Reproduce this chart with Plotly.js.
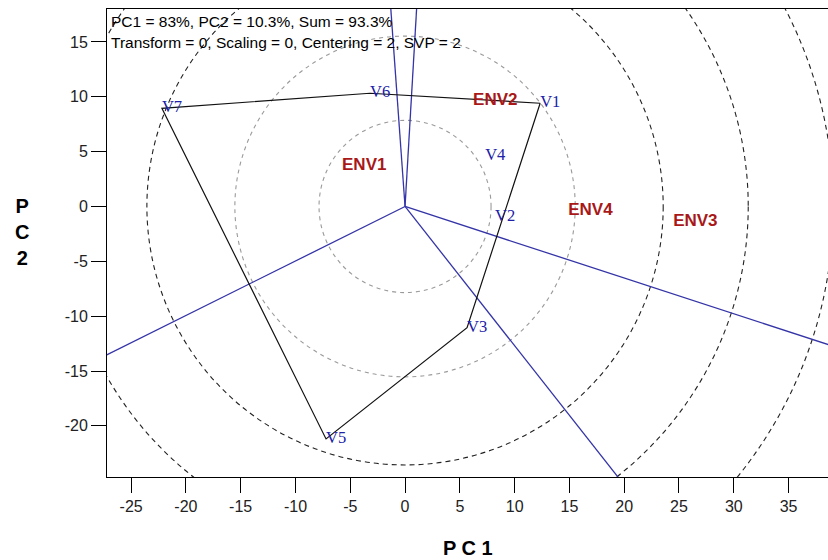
<!DOCTYPE html>
<html><head><meta charset="utf-8">
<script src="https://cdn.plot.ly/plotly-3.0.1.min.js"></script>
<style>html,body{margin:0;padding:0;background:#fff}</style>
</head><body><div id="chart" style="width:828px;height:560px"></div>
<script>
// ---- data ----
const genotypes = ['V1', 'V2', 'V3', 'V4', 'V5', 'V6', 'V7'];
const genoPC1 = [12.33, 8.22, 5.66, 7.31, -7.21, -3.20, -22.19];
const genoPC2 = [9.41, -0.91, -11.05, 4.57, -21.19, 10.32, 8.95];
const environments = ['ENV1', 'ENV2', 'ENV3', 'ENV4'];
const envPC1 = [-5.75, 6.21, 24.47, 14.89];
const envPC2 = [3.74, 9.68, -1.37, -0.37];
const hullOrder = ['V1', 'V6', 'V7', 'V5', 'V3'];
const circleRadii = [7.85, 15.53, 23.56, 31.32, 39.09];
const xTickVals = [-25, -20, -15, -10, -5, 0, 5, 10, 15, 20, 25, 30, 35];
const yTickVals = [-20, -15, -10, -5, 0, 5, 10, 15];
const headerLines = ['PC1 = 83%, PC2 = 10.3%, Sum = 93.3%',
                     'Transform = 0, Scaling = 0, Centering = 2, SVP = 2'];
const xTitle = 'P C 1';
const yTitle = 'P<br>C<br>2';

// ---- build traces ----
const idx = n => genotypes.indexOf(n);
const hx = hullOrder.map(n => genoPC1[idx(n)]);
const hy = hullOrder.map(n => genoPC2[idx(n)]);
hx.push(hx[0]); hy.push(hy[0]);

const traces = [];
// perpendicular rays from origin to each polygon side
for (let i = 0; i < hullOrder.length; i++) {
  const ax = hx[i], ay = hy[i], bx = hx[i + 1], by = hy[i + 1];
  let nx = by - ay, ny = -(bx - ax);
  if (nx * ax + ny * ay < 0) { nx = -nx; ny = -ny; }
  const L = Math.hypot(nx, ny);
  traces.push({x: [0, nx / L * 200], y: [0, ny / L * 200], mode: 'lines', type: 'scatter',
    line: {color: '#3434a8', width: 1.3}, hoverinfo: 'skip', showlegend: false});
}
traces.push({x: hx, y: hy, mode: 'lines', type: 'scatter',
  line: {color: '#111', width: 1.2}, hoverinfo: 'skip', showlegend: false});
traces.push({x: genoPC1, y: genoPC2, text: genotypes, mode: 'text', type: 'scatter',
  textposition: 'middle right', cliponaxis: false,
  textfont: {family: 'Liberation Serif, Times New Roman, serif', size: 16.5, color: '#2020a8'},
  hoverinfo: 'skip', showlegend: false});
traces.push({x: envPC1, y: envPC2, text: environments, mode: 'text', type: 'scatter',
  textposition: 'middle right', cliponaxis: false,
  textfont: {family: 'Liberation Sans, Arial, sans-serif', size: 17, color: '#a81818', weight: 'bold'},
  hoverinfo: 'skip', showlegend: false});

const shapes = circleRadii.map((r, i) => ({
  type: 'circle', xref: 'x', yref: 'y', x0: -r, x1: r, y0: -r, y1: r, layer: 'below',
  line: {color: i < 2 ? '#9a9a9a' : '#222', width: 1.1, dash: i < 2 ? '4px,4px' : '5px,4px'}
}));

const axisCommon = {
  showgrid: false, zeroline: false, showline: true, linecolor: '#000', linewidth: 1, mirror: true,
  ticks: 'outside', ticklen: 15, tickcolor: '#000', tickwidth: 1,
  tickfont: {family: 'Liberation Sans, Arial, sans-serif', size: 16, color: '#222'},
  tickmode: 'array', fixedrange: true
};

const headerFont = {family: 'Liberation Sans, Arial, sans-serif', size: 15.5, color: '#000'};
const layout = {
  width: 828, height: 560,
  margin: {l: 107, r: 0, t: 9, b: 83},
  paper_bgcolor: '#fff', plot_bgcolor: '#fff',
  xaxis: Object.assign({}, axisCommon, {range: [-27.2, 38.6], tickvals: xTickVals,
    ticktext: xTickVals.map(String)}),
  yaxis: Object.assign({}, axisCommon, {range: [-24.66, 18.0], tickvals: yTickVals,
    ticktext: yTickVals.map(String)}),
  shapes: shapes,
  annotations: [
    {text: headerLines[0], xref: 'paper', yref: 'paper', x: 0, y: 1, xanchor: 'left', yanchor: 'top',
     xshift: 2, yshift: -2, showarrow: false, font: headerFont},
    {text: headerLines[1], xref: 'paper', yref: 'paper', x: 0, y: 1, xanchor: 'left', yanchor: 'top',
     xshift: 2, yshift: -23, showarrow: false, font: headerFont},
    {text: xTitle, xref: 'paper', yref: 'paper', x: 0.5, y: -0.152, xanchor: 'center', yanchor: 'middle',
     showarrow: false, font: {family: 'Liberation Sans, Arial, sans-serif', size: 20, color: '#000', weight: 'bold'}},
    {text: yTitle, xref: 'paper', yref: 'paper', x: -0.118, y: 0.5235, xanchor: 'center', yanchor: 'middle',
     showarrow: false, font: {family: 'Liberation Sans, Arial, sans-serif', size: 20, color: '#000', weight: 'bold'}}
  ]
};

Plotly.newPlot('chart', traces, layout, {displayModeBar: false, staticPlot: true});
</script>
</body></html>
